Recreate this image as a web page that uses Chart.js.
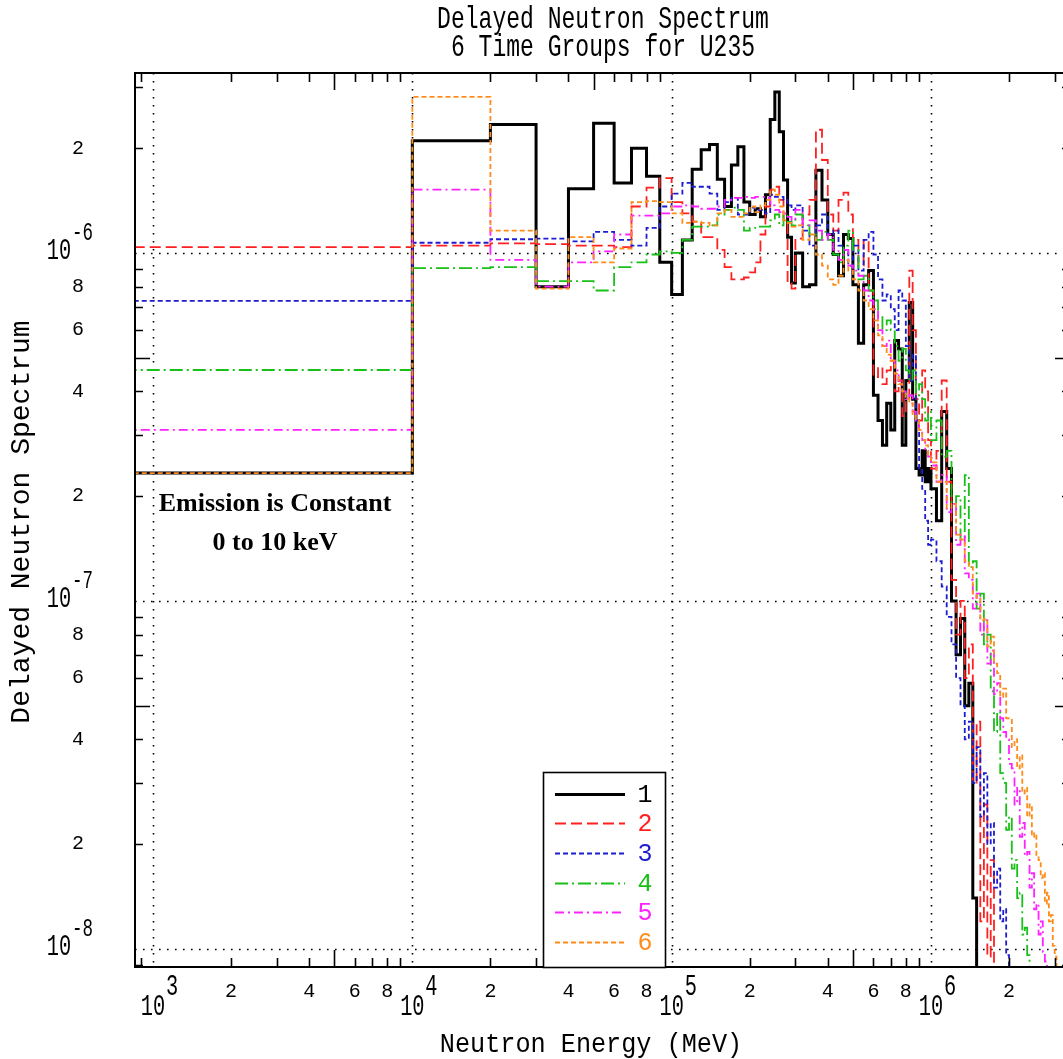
<!DOCTYPE html>
<html>
<head>
<meta charset="utf-8">
<script src="https://cdn.jsdelivr.net/npm/chart.js@4.4.1/dist/chart.umd.min.js"></script>
<style>
html,body{margin:0;padding:0;background:#fff;}
canvas{display:block;}
</style>
</head>
<body>
<canvas id="chartDNSpectrum" width="1063" height="1059"></canvas>
<script>
// bin edges (eV), first bin covers everything below 10 keV
const energyEdges = [
 100, 1e4, 2e4, 3e4, 4e4, 5e4, 6e4, 7e4, 8e4, 9e4,
 1.0e5, 1.1e5, 1.2e5, 1.3e5, 1.4e5, 1.5e5, 1.6e5, 1.7e5, 1.8e5, 1.9e5,
 2.0e5, 2.1e5, 2.2e5, 2.3e5, 2.4e5, 2.5e5, 2.6e5, 2.7e5, 2.8e5, 2.9e5,
 3.0e5, 3.2e5, 3.4e5, 3.6e5, 3.8e5, 4.0e5, 4.2e5, 4.4e5, 4.6e5, 4.8e5,
 5.0e5, 5.25e5, 5.5e5, 5.75e5, 6.0e5, 6.25e5, 6.5e5, 6.75e5, 7.0e5, 7.25e5,
 7.5e5, 7.75e5, 8.0e5, 8.25e5, 8.5e5, 8.75e5, 9.0e5, 9.25e5, 9.5e5, 9.75e5,
 1.00e6, 1.05e6, 1.10e6, 1.15e6, 1.20e6, 1.25e6, 1.30e6, 1.35e6, 1.40e6, 1.45e6,
 1.50e6, 1.55e6, 1.60e6, 1.65e6, 1.70e6, 1.75e6, 1.80e6, 1.85e6, 1.90e6, 1.95e6,
 2.00e6, 2.05e6, 2.10e6, 2.15e6, 2.20e6, 2.25e6, 2.30e6, 2.35e6, 2.40e6, 2.45e6,
 2.50e6, 2.55e6, 2.60e6, 2.65e6, 2.70e6, 2.75e6, 2.80e6, 2.85e6, 2.90e6, 2.95e6,
 3.00e6, 3.05e6, 3.10e6, 3.15e6, 3.20e6, 3.25e6, 3.30e6
]

const group1 = [
 2.33e-7, 2.10e-6, 2.34e-6, 8.0e-7, 1.53e-6, 2.36e-6, 1.59e-6, 2.0e-6, 1.66e-6, 9.4e-7,
 7.6e-7, 1.09e-6, 1.74e-6, 1.98e-6, 2.05e-6, 1.63e-6, 1.36e-6, 1.79e-6, 2.02e-6, 1.40e-6,
 1.29e-6, 1.34e-6, 1.27e-6, 1.47e-6, 2.42e-6, 2.90e-6, 2.23e-6, 1.62e-6, 1.11e-6, 8.2e-7,
 1.0e-6, 8.0e-7, 8.1e-7, 1.73e-6, 1.42e-6, 1.13e-6, 9.9e-7, 8.6e-7, 1.13e-6, 1.10e-6,
 8.1e-7, 5.5e-7, 8.1e-7, 8.9e-7, 3.9e-7, 3.3e-7, 2.8e-7, 3.7e-7, 3.1e-7, 5.6e-7,
 5.3e-7, 2.8e-7, 4.3e-7, 7.2e-7, 3.8e-7, 2.4e-7, 2.3e-7, 2.7e-7, 2.2e-7, 2.4e-7,
 2.1e-7, 1.7e-7, 3.5e-7, 2.4e-7, 1.0e-7, 7.0e-8, 8.9e-8, 5.0e-8, 5.8e-8, 1.4e-8,
 3e-9
]
const group2 = [
 1.04e-6, 1.05e-6, 1.066e-6, 1.06e-6, 1.05e-6, 1.05e-6, 1.04e-6, 1.36e-6, 1.54e-6, 1.64e-6,
 1.40e-6, 1.30e-6, 1.23e-6, 1.11e-6, 1.11e-6, 1.02e-6, 9.1e-7, 8.4e-7, 8.4e-7, 8.5e-7,
 8.8e-7, 9.4e-7, 1.13e-6, 1.36e-6, 1.52e-6, 1.55e-6, 1.42e-6, 1.24e-6, 8.2e-7, 7.9e-7,
 1.1e-6, 1.29e-6, 1.42e-6, 2.26e-6, 1.85e-6, 1.29e-6, 1.16e-6, 1.42e-6, 1.49e-6, 1.29e-6,
 1.09e-6, 9.2e-7, 1.09e-6, 7.8e-7, 4.4e-7, 4.7e-7, 4.2e-7, 4.6e-7, 4.9e-7, 4.0e-7,
 4.3e-7, 3.4e-7, 3.8e-7, 8.9e-7, 6.0e-7, 3.8e-7, 3.3e-7, 4.6e-7, 4.0e-7, 2.9e-7,
 2.4e-7, 2.7e-7, 4.3e-7, 2.2e-7, 1.15e-7, 8.0e-8, 1.0e-7, 6.0e-8, 7.5e-8, 3.0e-8,
 4.5e-8, 1.2e-8, 2.6e-8, 9.5e-9, 1.8e-8, 3e-9
]
const group3 = [
 7.28e-7, 1.07e-6, 1.095e-6, 1.10e-6, 1.08e-6, 1.15e-6, 1.09e-6, 1.05e-6, 1.18e-6, 1.36e-6,
 1.48e-6, 1.59e-6, 1.55e-6, 1.55e-6, 1.48e-6, 1.33e-6, 1.40e-6, 1.44e-6, 1.29e-6, 1.29e-6,
 1.35e-6, 1.33e-6, 1.33e-6, 1.30e-6, 1.47e-6, 1.45e-6, 1.45e-6, 1.42e-6, 1.37e-6, 1.33e-6,
 1.37e-6, 1.16e-6, 1.05e-6, 1.20e-6, 1.29e-6, 1.13e-6, 1.16e-6, 1.05e-6, 1.02e-6, 9.2e-7,
 1.05e-6, 8.9e-7, 1.09e-6, 1.15e-6, 9.9e-7, 8.4e-7, 7.3e-7, 7.6e-7, 6.9e-7, 6.0e-7,
 7.8e-7, 7.3e-7, 5.4e-7, 4.3e-7, 5.1e-7, 3.3e-7, 2.4e-7, 2.1e-7, 1.7e-7, 1.45e-7,
 1.5e-7, 1.3e-7, 1.1e-7, 9.0e-8, 7.5e-8, 6.0e-8, 5.0e-8, 4.0e-8, 4.5e-8, 3.0e-8,
 3.8e-8, 2.4e-8, 3.2e-8, 2.0e-8, 2.3e-8, 1.5e-8, 1.7e-8, 1.2e-8, 1.3e-8, 9.6e-9,
 3e-9
]
const group4 = [
 4.61e-7, 9.04e-7, 9.1e-7, 8.3e-7, 8.3e-7, 7.8e-7, 9.1e-7, 9.4e-7, 9.9e-7, 1.01e-6,
 1.0e-6, 1.09e-6, 1.19e-6, 1.19e-6, 1.20e-6, 1.29e-6, 1.33e-6, 1.35e-6, 1.33e-6, 1.16e-6,
 1.18e-6, 1.19e-6, 1.19e-6, 1.19e-6, 1.24e-6, 1.29e-6, 1.20e-6, 1.29e-6, 1.23e-6, 1.20e-6,
 1.29e-6, 1.20e-6, 1.13e-6, 1.09e-6, 1.15e-6, 1.09e-6, 9.9e-7, 9.4e-7, 1.05e-6, 1.16e-6,
 1.02e-6, 8.4e-7, 8.6e-7, 7.8e-7, 7.3e-7, 6.6e-7, 6.0e-7, 6.4e-7, 6.0e-7, 5.4e-7,
 4.9e-7, 5.3e-7, 4.6e-7, 4.3e-7, 4.6e-7, 3.9e-7, 4.2e-7, 3.8e-7, 3.3e-7, 3.5e-7,
 2.9e-7, 3.3e-7, 2.6e-7, 2.7e-7, 1.9e-7, 2.0e-7, 1.5e-7, 2.3e-7, 1.25e-7, 1.3e-7,
 9.5e-8, 1.05e-7, 7.5e-8, 8.0e-8, 5.5e-8, 4.2e-8, 4.8e-8, 3.2e-8, 3.0e-8, 2.2e-8,
 2.4e-8, 1.7e-8, 1.8e-8, 1.4e-8, 1.45e-8, 1.1e-8, 1.15e-8, 9.6e-9, 3e-9
]
const group5 = [
 3.10e-7, 1.52e-6, 9.55e-7, 8.0e-7, 9.4e-7, 1.01e-6, 1.13e-6, 1.28e-6, 1.28e-6, 1.30e-6,
 1.36e-6, 1.37e-6, 1.36e-6, 1.34e-6, 1.34e-6, 1.36e-6, 1.42e-6, 1.44e-6, 1.44e-6, 1.45e-6,
 1.44e-6, 1.45e-6, 1.45e-6, 1.44e-6, 1.37e-6, 1.33e-6, 1.31e-6, 1.30e-6, 1.27e-6, 1.24e-6,
 1.33e-6, 1.20e-6, 1.24e-6, 1.16e-6, 1.09e-6, 1.13e-6, 1.02e-6, 9.55e-7, 1.02e-6, 9.2e-7,
 8.9e-7, 8.6e-7, 7.8e-7, 7.3e-7, 6.9e-7, 6.0e-7, 5.4e-7, 5.6e-7, 4.9e-7, 4.6e-7,
 4.3e-7, 4.0e-7, 3.8e-7, 3.9e-7, 3.5e-7, 3.3e-7, 3.1e-7, 2.9e-7, 2.7e-7, 2.6e-7,
 2.45e-7, 2.2e-7, 2.3e-7, 1.8e-7, 1.9e-7, 1.45e-7, 1.55e-7, 1.2e-7, 1.15e-7, 9.5e-8,
 1.05e-7, 8.0e-8, 8.8e-8, 6.6e-8, 7.2e-8, 5.4e-8, 5.8e-8, 4.6e-8, 4.2e-8, 4.0e-8,
 3.4e-8, 3.3e-8, 2.6e-8, 2.9e-8, 2.1e-8, 2.3e-8, 1.85e-8, 1.9e-8, 1.5e-8, 1.65e-8,
 1.3e-8, 1.35e-8, 1.1e-8, 1.2e-8, 9.8e-9, 9.2e-9, 3e-9
]
const group6 = [
 2.33e-7, 2.81e-6, 1.16e-6, 7.9e-7, 1.11e-6, 9.4e-7, 1.03e-6, 1.40e-6, 1.41e-6, 1.40e-6,
 1.30e-6, 1.22e-6, 1.23e-6, 1.22e-6, 1.20e-6, 1.30e-6, 1.33e-6, 1.27e-6, 1.27e-6, 1.30e-6,
 1.36e-6, 1.31e-6, 1.37e-6, 1.42e-6, 1.52e-6, 1.47e-6, 1.36e-6, 1.24e-6, 1.22e-6, 1.19e-6,
 1.20e-6, 1.09e-6, 1.13e-6, 9.9e-7, 9.2e-7, 8.4e-7, 8.1e-7, 8.6e-7, 9.55e-7, 8.9e-7,
 8.4e-7, 7.8e-7, 7.3e-7, 6.9e-7, 6.4e-7, 5.8e-7, 5.4e-7, 5.1e-7, 4.9e-7, 4.5e-7,
 4.2e-7, 4.0e-7, 3.8e-7, 3.7e-7, 3.4e-7, 3.3e-7, 3.1e-7, 2.9e-7, 2.8e-7, 2.6e-7,
 2.5e-7, 2.2e-7, 2.2e-7, 1.85e-7, 1.9e-7, 1.55e-7, 1.5e-7, 1.3e-7, 1.25e-7, 1.05e-7,
 1.02e-7, 8.8e-8, 8.9e-8, 7.4e-8, 7.9e-8, 6.6e-8, 6.2e-8, 5.3e-8, 5.6e-8, 4.6e-8,
 4.6e-8, 3.8e-8, 4.0e-8, 3.3e-8, 3.6e-8, 2.8e-8, 2.9e-8, 2.4e-8, 2.6e-8, 2.1e-8,
 2.15e-8, 1.85e-8, 1.8e-8, 1.6e-8, 1.65e-8, 1.35e-8, 1.45e-8, 1.2e-8, 1.25e-8, 1.02e-8,
 9.5e-9, 3e-9
]

const groupNames = ['1','2','3','4','5','6']
const groupValues = [group1, group2, group3, group4, group5, group6]
const groupColors = ['#000000','#ff2020','#1c1cd0','#18c018','#ff22ff','#ff8c1a']
const groupDash = [[], [11,5], [5,3], [13,4,2,4], [9,4,2,4], [5,3]]
const groupWidth = [3, 1.8, 1.8, 1.8, 1.8, 1.8]

const xDecades = [1e3, 1e4, 1e5, 1e6]
const xDecadeExp = ['3','4','5','6']
const yDecades = [1e-8, 1e-7, 1e-6]
const yDecadeExp = ['-8','-7','-6']
const minorTickMantissa = [2,3,4,5,6,7,8,9]
const minorLabelMantissa = [2,4,6,8]
const xRange = [852, 3.23e6]
const yRange = [8.87e-9, 3.29e-6]

function histogramPoints(values){
  const pts = values.map((v,i) => ({x: energyEdges[i], y: v}))
  pts.push({x: energyEdges[values.length], y: values[values.length-1]})
  return pts
}

function txt(ctx, s, x, y, font, opt){
  opt = opt || {}
  ctx.save()
  ctx.translate(x, y)
  if (opt.rot) ctx.rotate(opt.rot)
  ctx.scale(opt.sx || 1, 1)
  ctx.font = font
  ctx.fillStyle = opt.color || '#000'
  ctx.textAlign = opt.align || 'center'
  ctx.textBaseline = 'middle'
  ctx.fillText(s, 0, 0)
  ctx.restore()
}

const MONO = '"Liberation Mono", "DejaVu Sans Mono", monospace'

const plotDecor = {
  id: 'plotDecor',
  beforeDraw(chart){
    const c = chart.ctx
    c.save(); c.fillStyle = '#fff'; c.fillRect(0, 0, chart.width, chart.height); c.restore()
  },
  beforeDatasetsDraw(chart){
    const {ctx, chartArea: a, scales: {x, y}} = chart
    ctx.save()
    ctx.strokeStyle = '#000'; ctx.lineWidth = 1.6; ctx.setLineDash([1.6, 6.4])
    xDecades.forEach(v => {
      const px = Math.round(x.getPixelForValue(v)) + 0.5
      ctx.beginPath(); ctx.moveTo(px, a.top); ctx.lineTo(px, a.bottom); ctx.stroke()
    })
    yDecades.forEach(v => {
      const py = Math.round(y.getPixelForValue(v)) + 0.5
      ctx.beginPath(); ctx.moveTo(a.left, py); ctx.lineTo(a.right, py); ctx.stroke()
    })
    ctx.restore()
  },
  afterDatasetsDraw(chart){
    const {ctx, chartArea: a, scales: {x, y}} = chart
    ctx.save()
    ctx.strokeStyle = '#000'; ctx.lineWidth = 1.6; ctx.setLineDash([])
    // ticks
    for (let k = 2; k <= 6; k++) {
      minorTickMantissa.forEach(m => {
        const v = m * Math.pow(10, k)
        if (v < xRange[0] || v > xRange[1]) return
        const px = Math.round(x.getPixelForValue(v)) + 0.5
        const len = m === 5 ? 17 : 9
        ctx.beginPath()
        ctx.moveTo(px, a.bottom); ctx.lineTo(px, a.bottom - len)
        ctx.moveTo(px, a.top); ctx.lineTo(px, a.top + len)
        ctx.stroke()
      })
    }
    for (let k = -9; k <= -6; k++) {
      minorTickMantissa.forEach(m => {
        const v = m * Math.pow(10, k)
        if (v < yRange[0] || v > yRange[1]) return
        const py = Math.round(y.getPixelForValue(v)) + 0.5
        const len = m === 5 ? 15 : 8
        ctx.beginPath()
        ctx.moveTo(a.left, py); ctx.lineTo(a.left + len, py)
        ctx.moveTo(a.right + 7, py); ctx.lineTo(a.right + 7 - len, py)
        ctx.stroke()
      })
    }
    // frame
    ctx.lineWidth = 2
    ctx.beginPath()
    ctx.moveTo(a.right + 2, a.top); ctx.lineTo(a.left, a.top); ctx.lineTo(a.left, a.bottom); ctx.lineTo(a.right + 2, a.bottom)
    ctx.stroke()

    // x tick labels
    for (let k = 2; k <= 6; k++) {
      minorLabelMantissa.forEach(m => {
        const v = m * Math.pow(10, k)
        if (v < xRange[0] || v > xRange[1]) return
        txt(ctx, String(m), x.getPixelForValue(v), 992, '20px ' + MONO)
      })
    }
    xDecades.forEach((v, i) => {
      const px = x.getPixelForValue(v)
      txt(ctx, '10', px, 1007, '29px ' + MONO, {sx: 0.7})
      txt(ctx, xDecadeExp[i], px + 13, 987, '29px ' + MONO, {sx: 0.7, align: 'left'})
    })
    // y tick labels
    for (let k = -9; k <= -6; k++) {
      minorLabelMantissa.forEach(m => {
        const v = m * Math.pow(10, k)
        if (v < yRange[0] || v > yRange[1]) return
        txt(ctx, String(m), 78, y.getPixelForValue(v), '20px ' + MONO)
      })
    }
    yDecades.forEach((v, i) => {
      const py = y.getPixelForValue(v)
      txt(ctx, '10', 59, py - 2, '29px ' + MONO, {sx: 0.7})
      txt(ctx, yDecadeExp[i], 72, py - 20, '25px ' + MONO, {sx: 0.7, align: 'left'})
    })

    // titles
    txt(ctx, 'Delayed Neutron Spectrum', 603, 20, '32px ' + MONO, {sx: 0.72})
    txt(ctx, '6 Time Groups for U235', 603, 48, '32px ' + MONO, {sx: 0.72})
    txt(ctx, 'Neutron Energy (MeV)', 591, 1045, '28px ' + MONO, {sx: 0.9})
    txt(ctx, 'Delayed Neutron Spectrum', 22, 522, '28px ' + MONO, {rot: -Math.PI / 2})

    // annotation
    txt(ctx, 'Emission is Constant', 275, 504, 'bold 26px "Liberation Serif", "Times New Roman", serif')
    txt(ctx, '0 to 10 keV', 275, 543, 'bold 26px "Liberation Serif", "Times New Roman", serif')

    // legend
    const lx = 543, ly = 772, lw = 122, lh = a.bottom - 772
    ctx.fillStyle = '#fff'; ctx.fillRect(lx, ly, lw, lh)
    ctx.lineWidth = 1.6; ctx.strokeStyle = '#000'
    ctx.strokeRect(lx + 0.5, ly + 0.5, lw, lh)
    const rowY = [794, 823, 853, 883, 912, 942]
    chart.data.datasets.forEach((ds, i) => {
      ctx.save()
      ctx.strokeStyle = ds.borderColor; ctx.lineWidth = ds.borderWidth
      ctx.setLineDash(ds.borderDash)
      ctx.beginPath(); ctx.moveTo(555, rowY[i] + 0.5); ctx.lineTo(625, rowY[i] + 0.5); ctx.stroke()
      ctx.restore()
      txt(ctx, groupNames[i], 645, rowY[i] + 1, '25px ' + MONO, {color: ds.borderColor})
    })
    ctx.restore()
  }
}

const chartDN = new Chart(document.getElementById('chartDNSpectrum'), {
  type: 'line',
  data: {
    datasets: groupValues.map((vals, i) => ({
      label: groupNames[i],
      data: histogramPoints(vals),
      borderColor: groupColors[i],
      borderWidth: groupWidth[i],
      borderDash: groupDash[i],
      stepped: 'before',
      pointRadius: 0,
      fill: false,
      order: 6 - i
    }))
  },
  options: {
    responsive: false,
    animation: false,
    devicePixelRatio: 1,
    layout: {padding: {left: 135, top: 73, right: 0, bottom: 92}},
    scales: {
      x: {type: 'logarithmic', min: xRange[0], max: xRange[1], display: false},
      y: {type: 'logarithmic', min: yRange[0], max: yRange[1], display: false}
    },
    plugins: {legend: {display: false}, tooltip: {enabled: false}, title: {display: false}}
  },
  plugins: [plotDecor]
})
</script>
</body>
</html>
